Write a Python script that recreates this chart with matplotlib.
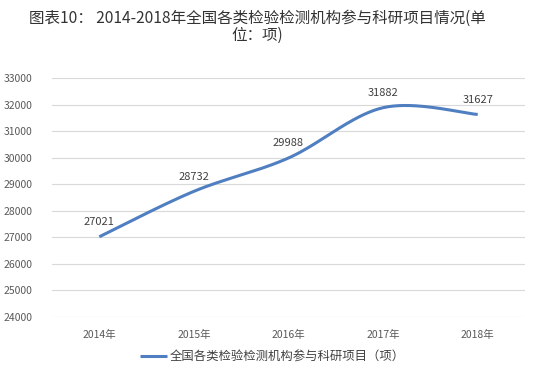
import numpy as np
import matplotlib
matplotlib.use("Agg")
import matplotlib.pyplot as plt

plt.rcParams['font.family'] = ['Noto Sans CJK SC', 'DejaVu Sans']

# data
years = ["2014年", "2015年", "2016年", "2017年", "2018年"]
values = [27021, 28732, 29988, 31882, 31627]
series_name = "全国各类检验检测机构参与科研项目（项）"
title = "图表10： 2014-2018年全国各类检验检测机构参与科研项目情况(单\n位：项)"
yticks = [24000, 25000, 26000, 27000, 28000, 29000, 30000, 31000, 32000, 33000]


def smooth(xs, ys, n=40):
    # Excel-like smoothed line: cubic bezier with 1/6 tangents
    xs = np.asarray(xs, float)
    ys = np.asarray(ys, float)
    px = np.concatenate([[xs[0]], xs, [xs[-1]]])
    py = np.concatenate([[ys[0]], ys, [ys[-1]]])
    ox, oy = [], []
    t = np.linspace(0, 1, n)
    for i in range(1, len(xs)):
        p0 = np.array([px[i], py[i]])
        p3 = np.array([px[i + 1], py[i + 1]])
        c1 = p0 + (np.array([px[i + 1], py[i + 1]]) - np.array([px[i - 1], py[i - 1]])) / 6
        c2 = p3 - (np.array([px[i + 2], py[i + 2]]) - np.array([px[i], py[i]])) / 6
        bx = (1 - t) ** 3 * p0[0] + 3 * (1 - t) ** 2 * t * c1[0] + 3 * (1 - t) * t ** 2 * c2[0] + t ** 3 * p3[0]
        by = (1 - t) ** 3 * p0[1] + 3 * (1 - t) ** 2 * t * c1[1] + 3 * (1 - t) * t ** 2 * c2[1] + t ** 3 * p3[1]
        ox.extend(bx)
        oy.extend(by)
    return ox, oy


fig = plt.figure(figsize=(5.5, 3.77), dpi=100)
ax = fig.add_axes([52 / 550, 1 - 317 / 377, 473 / 550, 239 / 377])

x = np.arange(len(years))
sx, sy = smooth(x, values)
line_color = "#4f7fc0"
ax.plot(sx, sy, color=line_color, lw=2.2, solid_capstyle="butt",
        label=series_name, zorder=3)

for xi, v in zip(x, values):
    ax.annotate(str(v), (xi, v), xytext=(0, 7), textcoords="offset points",
                ha="center", va="bottom", fontsize=8, color="#404040")

ax.set_xlim(-0.5, len(years) - 0.5)
ax.set_ylim(24000, 33000)
ax.set_yticks(yticks)
ax.set_yticklabels([str(v) for v in yticks], fontsize=7.5, color="#595959")
ax.set_xticks(x)
ax.set_xticklabels(years, fontsize=7.5, color="#595959")
ax.tick_params(length=0, pad=9)
ax.tick_params(axis="y", pad=14)
ax.grid(axis="y", color="#d9d9d9", lw=0.8)
ax.set_axisbelow(True)
for s in ax.spines.values():
    s.set_visible(False)

fig.text(257 / 550, 1 - 10 / 377, title, ha="center", va="top",
         fontsize=11.2, color="#333333", linespacing=1.0)

fig.legend(loc="center", bbox_to_anchor=(272 / 550, 1 - 357 / 377),
           frameon=False, fontsize=8.9, handlelength=2.2, handletextpad=0.2,
           labelcolor="#404040")

fig.savefig("out.png", dpi=100)
